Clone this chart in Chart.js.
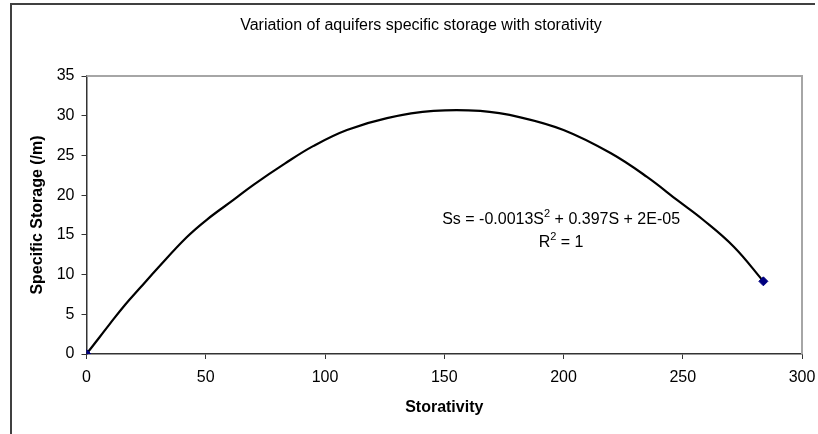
<!DOCTYPE html>
<html>
<head>
<meta charset="utf-8">
<script src="https://cdn.jsdelivr.net/npm/chart.js@4"></script>
<style>
  html, body { margin: 0; padding: 0; background: #fff; }
  #wrap { width: 818px; height: 434px; }
</style>
</head>
<body>
<div id="wrap"><canvas id="storageChart" width="818" height="434"></canvas></div>
<script>
// Data
const measuredS = [0, 283.8];
const measuredSs = [0, 9.15];

// trendline
const trendS = [0, 5.7, 9.8, 16.2, 22.4, 30.1, 42, 50.4, 61.6, 70, 83.3, 95.2, 109.2, 126, 145.5, 165.1, 181.9, 200, 219.7, 235, 248, 258.5, 271.4, 283.8];
const trendSs = [0, 2.2, 3.8, 6.2, 8.3, 10.9, 14.7, 16.9, 19.4, 21.3, 24.0, 26.2, 28.2, 29.7, 30.6, 30.6, 29.8, 28.2, 25.3, 22.3, 19.3, 16.9, 13.5, 9.15];

const xTicks = [0, 50, 100, 150, 200, 250, 300];
const yTicks = [0, 5, 10, 15, 20, 25, 30, 35];

const chartTitle = 'Variation of aquifers specific storage with storativity';
const xTitle = 'Storativity';
const yTitle = 'Specific Storage (/m)';
const eqLabel = { x: 199, y: 16.9 };

const FONT = "'Liberation Sans', Arial, sans-serif";

// Outer frame, chart title and plot area border (Excel style)
const framePlugin = {
    id: 'frame',
    beforeDraw(chart) {
        const { ctx } = chart;
        ctx.save();
        ctx.fillStyle = '#fff';
        ctx.fillRect(0, 0, chart.width, chart.height);
        ctx.strokeStyle = '#404040';
        ctx.lineWidth = 2;
        ctx.beginPath();
        ctx.moveTo(11, chart.height);
        ctx.lineTo(11, 4);
        ctx.lineTo(815, 4);
        ctx.stroke();
        // title sits a bit right of the canvas centre, like the original
        ctx.fillStyle = '#000';
        ctx.font = '16px ' + FONT;
        ctx.textAlign = 'center';
        ctx.textBaseline = 'middle';
        ctx.fillText(chartTitle, 421, 26);
        ctx.restore();
    },
    beforeDatasetsDraw(chart) {
        const { ctx, chartArea: a } = chart;
        ctx.save();
        ctx.strokeStyle = '#a6a6a6';
        ctx.lineWidth = 2;
        ctx.beginPath();
        ctx.moveTo(a.left, a.top);
        ctx.lineTo(a.right, a.top);
        ctx.lineTo(a.right, a.bottom);
        ctx.stroke();
        ctx.restore();
    }
};

// Trendline equation label
const equationPlugin = {
    id: 'equation',
    afterDraw(chart) {
        const { ctx, scales } = chart;
        const cx = scales.x.getPixelForValue(eqLabel.x);
        const cy = scales.y.getPixelForValue(eqLabel.y);
        const lines = [
            [['Ss = -0.0013S', false], ['2', true], [' + 0.397S + 2E-05', false]],
            [['R', false], ['2', true], [' = 1', false]]
        ];
        ctx.save();
        ctx.fillStyle = '#000';
        ctx.textBaseline = 'middle';
        ctx.textAlign = 'left';
        lines.forEach((parts, i) => {
            let total = 0;
            parts.forEach(([t, sup]) => {
                ctx.font = (sup ? '11px ' : '16px ') + FONT;
                total += ctx.measureText(t).width;
            });
            let x = cx - total / 2;
            const y = cy + i * 23;
            parts.forEach(([t, sup]) => {
                ctx.font = (sup ? '11px ' : '16px ') + FONT;
                ctx.fillText(t, x, sup ? y - 6 : y);
                x += ctx.measureText(t).width;
            });
        });
        ctx.restore();
    }
};

const initStorageChart = () => {
    const ctx = document.getElementById('storageChart').getContext('2d');
    const data = {
        datasets: [{
            type: 'line',
            label: 'Trend',
            data: trendS.map((s, i) => ({ x: s, y: trendSs[i] })),
            borderColor: '#000',
            borderWidth: 2.2,
            pointRadius: 0,
            fill: false,
            tension: 0.4,
            order: 2
        }, {
            type: 'scatter',
            label: 'Ss',
            data: measuredS.map((s, i) => ({ x: s, y: measuredSs[i] })),
            pointStyle: 'rectRot',
            pointRadius: 4.5,
            backgroundColor: '#000080',
            borderColor: '#000080',
            order: 1
        }]
    };

    const tickFont = { family: FONT, size: 16 };

    const options = {
        responsive: false,
        animation: false,
        layout: { padding: { left: 0, right: 16, top: 76, bottom: 0 } },
        plugins: {
            legend: { display: false },
            tooltip: { enabled: false },
            title: { display: false }
        },
        scales: {
            x: {
                type: 'linear',
                min: 0,
                max: 300,
                afterBuildTicks: (axis) => { axis.ticks = xTicks.map(v => ({ value: v })); },
                afterFit: (axis) => {
                    axis.height = 80;
                    axis.paddingRight = 4;
                },
                ticks: { color: '#000', font: tickFont, padding: 9, maxRotation: 0 },
                grid: { drawOnChartArea: false, drawTicks: true, tickLength: 5, color: '#333' },
                border: { display: true, color: '#333', width: 1.5 },
                title: {
                    display: true,
                    text: xTitle,
                    color: '#000',
                    font: { family: FONT, size: 16, weight: 'bold' },
                    padding: { top: 0, bottom: 17 }
                }
            },
            y: {
                type: 'linear',
                min: 0,
                max: 35,
                afterBuildTicks: (axis) => { axis.ticks = yTicks.map(v => ({ value: v })); },
                afterFit: (axis) => {
                    axis.width = 86.5;
                    axis.paddingTop = 0;
                },
                ticks: { color: '#000', font: tickFont, padding: 7 },
                grid: { drawOnChartArea: false, drawTicks: true, tickLength: 5, color: '#333' },
                border: { display: true, color: '#333', width: 1.5 },
                title: {
                    display: true,
                    text: yTitle,
                    color: '#000',
                    font: { family: FONT, size: 16, weight: 'bold' },
                    padding: { top: 28, bottom: 0 }
                }
            }
        }
    };

    new Chart(ctx, {
        type: 'scatter',
        data,
        options,
        plugins: [framePlugin, equationPlugin]
    });
};

document.addEventListener('DOMContentLoaded', () => {
    initStorageChart();
});
</script>
</body>
</html>
